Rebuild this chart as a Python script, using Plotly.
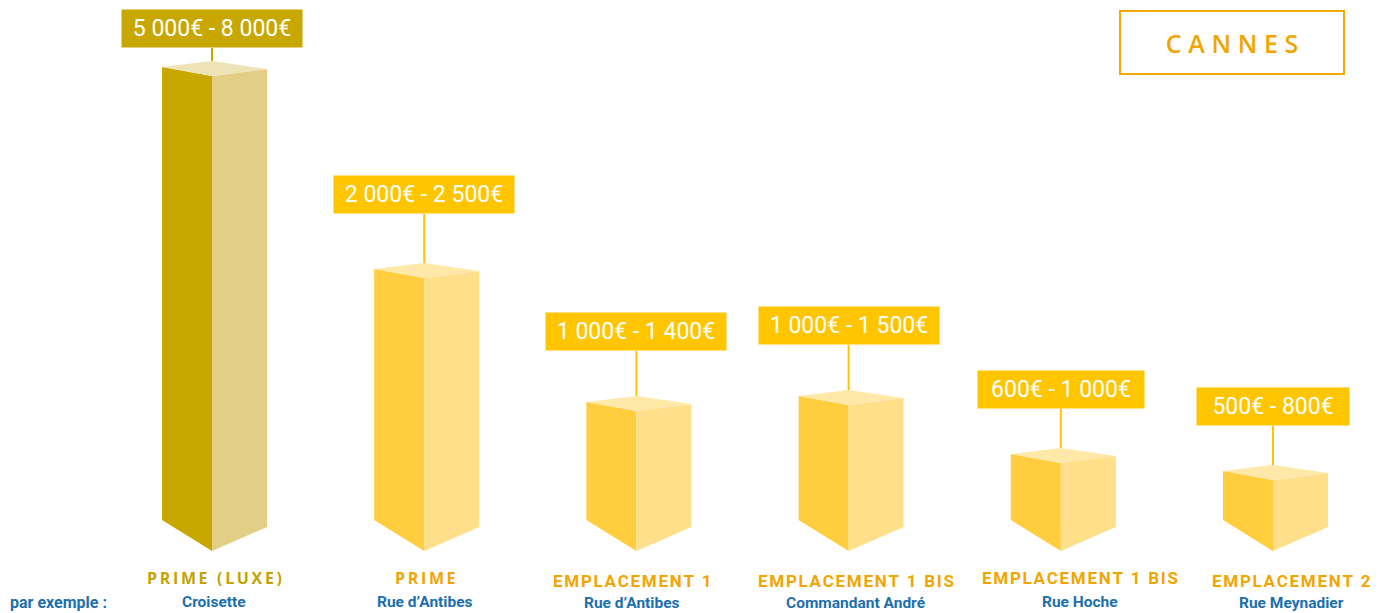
import plotly.graph_objects as go

# ---------------- data ----------------
categories = ["PRIME (LUXE)", "PRIME", "EMPLACEMENT 1", "EMPLACEMENT 1 BIS",
              "EMPLACEMENT 1 BIS", "EMPLACEMENT 2"]
streets = ["Croisette", "Rue d’Antibes", "Rue d’Antibes", "Commandant André",
           "Rue Hoche", "Rue Meynadier"]
price_low = [5000, 2000, 1000, 1000, 600, 500]
price_high = [8000, 2500, 1400, 1500, 1000, 800]
# visual bar height (front edge)
bar_height = [475, 273, 140, 146, 88, 71]

# ---------------- styles / layout ----------------
W, H = 1392, 613
PX_PER_UNIT = 212.2
X0_PX = 212
BASE_PX = 551
HALF_L = 50 / PX_PER_UNIT
HALF_R = 55 / PX_PER_UNIT
connector = [13, 49, 45, 45, 39, 39]
label_shift = [2, 1, -4, 7, 19, 18]
cat_y_px = [578, 578, 581, 581, 578, 581]
street_y_px = [602, 602, 603, 603, 602, 603]

lux = dict(left="#C8A800", right="#E2CE86", top="#EEE3B6", box="#C8A800", cat="#C4A300")
std = dict(left="#FFCD3E", right="#FFDF89", top="#FFE8A8", box="#FFC600", cat="#F2A500")
BLUE = "#1C6FB0"
COND = "Roboto, sans-serif"


def fmt(v):
    return f"{v:,}".replace(",", " ") + "€"


def spaced(s, sep="\u200a"):
    return sep.join(list(s))


fig = go.Figure()

for i, h in enumerate(bar_height):
    pal = lux if i == 0 else std
    xl, xc, xr = i - HALF_L, i, i + HALF_R
    # left face
    fig.add_trace(go.Scatter(x=[xl, xc, xc, xl, xl], y=[31, 0, h, h + 9, 31],
                             fill="toself", fillcolor=pal["left"], mode="lines",
                             line=dict(width=0, color=pal["left"]), hoverinfo="skip",
                             showlegend=False))
    # right face
    fig.add_trace(go.Scatter(x=[xc, xr, xr, xc, xc], y=[0, 24, h + 7, h, 0],
                             fill="toself", fillcolor=pal["right"], mode="lines",
                             line=dict(width=0, color=pal["right"]), hoverinfo="skip",
                             showlegend=False))
    # top face
    fig.add_trace(go.Scatter(x=[xl, xc, xr, xc, xl], y=[h + 9, h, h + 7, h + 15, h + 9],
                             fill="toself", fillcolor=pal["top"], mode="lines",
                             line=dict(width=0, color=pal["top"]), hoverinfo="skip",
                             showlegend=False))
    # connector
    top_back = h + 15
    box_bottom = top_back + connector[i]
    fig.add_trace(go.Scatter(x=[xc, xc], y=[top_back, box_bottom], mode="lines",
                             line=dict(width=2, color=pal["box"]), hoverinfo="skip",
                             showlegend=False))
    text = f"{fmt(price_low[i])} - {fmt(price_high[i])}"
    fig.add_annotation(x=xc, y=box_bottom, yanchor="bottom", xanchor="center",
                       text=text, showarrow=False, bgcolor=pal["box"],
                       width=75 + 7 * len(text), height=37, borderpad=0,
                       font=dict(family=COND, size=23, color="white"))
    # category label
    if i < 2:
        cat_txt = spaced(categories[i], "\u2009")
        cat_font = dict(family="Open Sans, sans-serif", size=16, color=pal["cat"], weight=700)
    else:
        cat_txt = spaced(categories[i])
        cat_font = dict(family="Roboto, sans-serif", size=17, color=pal["cat"], weight=700)
    fig.add_annotation(x=xc, y=BASE_PX - cat_y_px[i], xshift=label_shift[i],
                       text=cat_txt, showarrow=False, yanchor="middle",
                       font=cat_font)
    fig.add_annotation(x=xc, y=BASE_PX - street_y_px[i], xshift=label_shift[i],
                       text=streets[i], showarrow=False, yanchor="middle",
                       font=dict(family=COND, size=15.5, color=BLUE, weight=700))

fig.add_annotation(xref="paper", yref="paper", x=8 / W, y=1 - 602 / H,
                   xanchor="left", yanchor="middle", text="par exemple :",
                   showarrow=False, font=dict(family=COND, size=16, color=BLUE, weight=700))

fig.add_annotation(xref="paper", yref="paper", x=1232 / W, y=1 - 42.5 / H,
                   xanchor="center", yanchor="middle", text=spaced("CANNES", "\u2009\u200a"),
                   showarrow=False, width=222, height=61, bordercolor="#F2A900",
                   borderwidth=2, borderpad=0,
                   font=dict(family="Open Sans, sans-serif", size=25, color="#F0A500", weight=600))

fig.update_layout(
    width=W, height=H,
    margin=dict(l=0, r=0, t=0, b=0),
    paper_bgcolor="white", plot_bgcolor="white",
    xaxis=dict(range=[-X0_PX / PX_PER_UNIT, 5 + (W - (X0_PX + 5 * PX_PER_UNIT)) / PX_PER_UNIT],
               visible=False, fixedrange=True),
    yaxis=dict(range=[BASE_PX - H, BASE_PX], visible=False, fixedrange=True),
    showlegend=False,
)

fig.write_html("out.html", post_script="document.body.style.margin='0';",
               config={"displayModeBar": False})
